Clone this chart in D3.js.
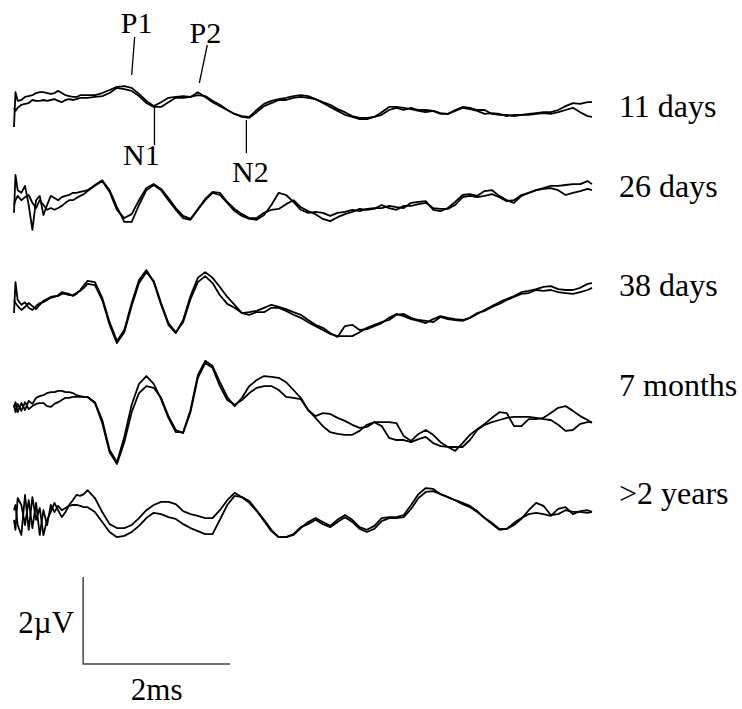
<!DOCTYPE html>
<html>
<head>
<meta charset="utf-8">
<script src="https://cdn.jsdelivr.net/npm/d3@7/dist/d3.min.js"></script>
<style>
  html, body { margin: 0; padding: 0; background: #fff; }
  svg { display: block; }
</style>
</head>
<body>
<svg id="chart" width="742" height="709"></svg>
<script>
// Sampling grid of every sweep (ms): 0.05 ms steps over the first millisecond, 0.1 ms after.
const timeMs = [0, 0.02, 0.05, 0.1, 0.15, 0.2, 0.25, 0.3, 0.35, 0.4, 0.45, 0.5, 0.55, 0.6, 0.65, 0.7, 0.75, 0.8, 0.85, 0.9, 0.95,
  1.0, 1.1, 1.2, 1.3, 1.4, 1.5, 1.6, 1.7, 1.8, 1.9,
  2.0, 2.1, 2.2, 2.3, 2.4, 2.5, 2.6, 2.7, 2.8, 2.9,
  3.0, 3.1, 3.2, 3.3, 3.4, 3.5, 3.6, 3.7, 3.8, 3.9,
  4.0, 4.1, 4.2, 4.3, 4.4, 4.5, 4.6, 4.7, 4.8, 4.9,
  5.0, 5.1, 5.2, 5.3, 5.4, 5.5, 5.6, 5.7, 5.8, 5.9,
  6.0, 6.1, 6.2, 6.3, 6.4, 6.5, 6.6, 6.7, 6.8, 6.9,
  7.0, 7.1, 7.2, 7.3, 7.4, 7.5, 7.6, 7.7, 7.8, 7.86];

// Age groups, one row each
const ages = ["11 days", "26 days", "38 days", "7 months", ">2 years"];

// Two repeated recordings per age (µV)
const days11_a = [-0.62, 0.18, -0.02, 0, 0.07, 0.09, 0.11, 0.16, 0.18, 0.18, 0.16, 0.14, 0.16, 0.21, 0.16, 0.11, 0.09, 0.07, 0.07, 0.11, 0.11,
  0.11, 0.11, 0.16, 0.23, 0.30, 0.32, 0.28, 0.14, -0.02, -0.14,
  -0.05, 0.05, 0.07, 0.09, 0.07, 0.18, 0.07, -0.05, -0.14, -0.23,
  -0.32, -0.37, -0.39, -0.23, -0.09, -0.02, 0.02, 0.05, 0.09, 0.11,
  0.09, 0.02, -0.05, -0.11, -0.21, -0.28, -0.37, -0.41, -0.41, -0.39,
  -0.28, -0.16, -0.16, -0.18, -0.21, -0.25, -0.28, -0.25, -0.30, -0.32,
  -0.23, -0.16, -0.18, -0.23, -0.23, -0.32, -0.34, -0.34, -0.37, -0.34,
  -0.32, -0.30, -0.28, -0.28, -0.23, -0.14, -0.07, -0.09, -0.05, -0.05];
const days11_b = [-0.18, -0.25, -0.18, -0.11, -0.09, -0.07, 0, -0.02, -0.02, 0, -0.02, 0, 0.02, -0.02, -0.05, 0, 0.02, 0, 0.02, 0.05, 0.05,
  0.05, 0.07, 0.09, 0.16, 0.28, 0.25, 0.21, 0.09, -0.07, -0.16,
  -0.16, -0.05, 0.05, 0.05, 0.07, 0.11, 0.09, -0.02, -0.11, -0.23,
  -0.32, -0.39, -0.41, -0.28, -0.14, -0.07, 0, 0, 0.05, 0.07,
  0.05, 0.02, -0.07, -0.16, -0.25, -0.34, -0.39, -0.44, -0.44, -0.39,
  -0.34, -0.23, -0.18, -0.23, -0.18, -0.23, -0.23, -0.25, -0.32, -0.32,
  -0.25, -0.18, -0.21, -0.25, -0.32, -0.30, -0.32, -0.37, -0.34, -0.34,
  -0.34, -0.32, -0.30, -0.32, -0.28, -0.23, -0.18, -0.28, -0.37, -0.39];

const days26_a = [-0.18, 0.69, 0.34, 0.28, 0.44, 0, -0.57, 0.11, 0.21, -0.23, 0, 0.21, 0.16, 0.11, 0.18, 0.21, 0.23, 0.28, 0.28, 0.30, 0.32,
  0.34, 0.46, 0.57, 0.34, -0.05, -0.39, -0.39, 0, 0.34, 0.46,
  0.34, 0.11, -0.11, -0.30, -0.34, -0.11, 0.11, 0.28, 0.23, 0.05,
  -0.14, -0.25, -0.32, -0.34, -0.23, 0, 0.28, 0.23, 0.07, -0.11,
  -0.18, -0.16, -0.18, -0.25, -0.18, -0.16, -0.11, -0.14, -0.09, -0.07,
  -0.07, -0.02, -0.05, -0.07, 0.05, 0.07, 0.09, -0.11, -0.14, -0.07,
  0.07, 0.23, 0.25, 0.21, 0.32, 0.34, 0.21, 0.11, 0.05, 0.21,
  0.28, 0.34, 0.39, 0.44, 0.44, 0.46, 0.48, 0.48, 0.55, 0.48];
const days26_b = [0, 0.11, 0.21, 0.11, 0.18, 0.23, 0.05, -0.07, 0.11, 0, -0.11, -0.07, -0.11, -0.07, -0.02, 0.05, 0.11, 0.11, 0.16, 0.21, 0.25,
  0.32, 0.44, 0.55, 0.30, -0.11, -0.30, -0.21, 0.11, 0.39, 0.48,
  0.37, 0.16, -0.07, -0.25, -0.32, -0.09, 0.14, 0.30, 0.28, 0.07,
  -0.09, -0.21, -0.30, -0.30, -0.18, -0.11, -0.09, 0.02, 0.11, -0.05,
  -0.14, -0.21, -0.32, -0.37, -0.28, -0.21, -0.16, -0.09, -0.11, -0.09,
  0, -0.07, -0.11, -0.02, -0.02, 0.02, 0.05, -0.07, -0.09, -0.09,
  0, 0.18, 0.21, 0.18, 0.21, 0.25, 0.18, 0.09, 0.11, 0.23,
  0.28, 0.34, 0.37, 0.39, 0.34, 0.23, 0.28, 0.32, 0.37, 0.34];

const days38_a = [-0.30, 0.41, 0, -0.11, -0.05, -0.18, -0.23, -0.14, -0.07, -0.05, 0, 0.05, 0.07, 0.11, 0.18, 0.16, 0.14, 0.09, 0.14, 0.23, 0.34,
  0.44, 0.41, 0.05, -0.51, -0.94, -0.69, -0.07, 0.46, 0.69, 0.41,
  -0.11, -0.57, -0.76, -0.46, 0.09, 0.51, 0.64, 0.51, 0.30, 0.07,
  -0.11, -0.30, -0.28, -0.25, -0.18, -0.11, -0.16, -0.21, -0.28, -0.34,
  -0.46, -0.57, -0.64, -0.76, -0.85, -0.60, -0.57, -0.69, -0.67, -0.60,
  -0.53, -0.41, -0.32, -0.37, -0.44, -0.48, -0.53, -0.44, -0.37, -0.41,
  -0.44, -0.46, -0.41, -0.32, -0.23, -0.14, -0.05, 0.02, 0.09, 0.18,
  0.21, 0.25, 0.30, 0.32, 0.25, 0.23, 0.23, 0.28, 0.37, 0.39];
const days38_b = [0, -0.07, -0.14, -0.23, -0.16, -0.07, -0.14, -0.21, -0.11, -0.02, 0.02, 0.07, 0.09, 0.09, 0.14, 0.14, 0.11, 0.11, 0.16, 0.21, 0.28,
  0.37, 0.34, 0, -0.57, -0.99, -0.74, -0.14, 0.39, 0.64, 0.44,
  -0.07, -0.53, -0.74, -0.51, 0.02, 0.41, 0.55, 0.39, 0.11, -0.09,
  -0.18, -0.30, -0.34, -0.28, -0.28, -0.18, -0.18, -0.25, -0.34, -0.41,
  -0.51, -0.60, -0.69, -0.78, -0.83, -0.83, -0.83, -0.74, -0.64, -0.57,
  -0.51, -0.46, -0.34, -0.32, -0.41, -0.46, -0.48, -0.51, -0.39, -0.44,
  -0.46, -0.48, -0.41, -0.30, -0.25, -0.16, -0.09, 0, 0.07, 0.14,
  0.16, 0.23, 0.21, 0.23, 0.18, 0.16, 0.14, 0.18, 0.23, 0.28];

const months7_a = [-0.18, -0.05, -0.28, -0.07, -0.23, -0.02, -0.09, 0.05, 0.09, 0.11, 0.16, 0.18, 0.18, 0.21, 0.21, 0.18, 0.18, 0.16, 0.11, 0.09, 0.07,
  0.07, -0.05, -0.46, -1.15, -1.43, -0.85, -0.11, 0.37, 0.55, 0.37,
  0.02, -0.41, -0.74, -0.74, -0.23, 0.57, 0.90, 0.78, 0.41, 0.07,
  -0.14, 0.05, 0.32, 0.46, 0.55, 0.53, 0.51, 0.41, 0.23, 0.05,
  -0.23, -0.37, -0.30, -0.32, -0.41, -0.48, -0.57, -0.64, -0.62, -0.51,
  -0.51, -0.51, -0.53, -0.83, -0.94, -0.78, -0.69, -0.80, -0.97, -1.08,
  -1.17, -0.99, -0.80, -0.67, -0.55, -0.41, -0.28, -0.30, -0.60, -0.60,
  -0.44, -0.44, -0.41, -0.30, -0.18, -0.14, -0.25, -0.37, -0.46, -0.53];
const months7_b = [-0.11, -0.28, -0.09, -0.25, -0.05, -0.21, -0.14, -0.09, -0.07, -0.07, -0.14, -0.16, -0.09, -0.05, 0, 0.05, 0.05, 0.07, 0.07, 0.07, 0.07,
  0.07, -0.07, -0.53, -1.20, -1.47, -0.97, -0.28, 0.16, 0.32, 0.28,
  0.05, -0.37, -0.69, -0.76, -0.28, 0.51, 0.85, 0.74, 0.32, 0,
  -0.11, 0, 0.16, 0.28, 0.32, 0.32, 0.23, 0.07, 0.05, 0.02,
  -0.23, -0.41, -0.60, -0.74, -0.78, -0.80, -0.80, -0.71, -0.57, -0.51,
  -0.60, -0.87, -0.92, -0.92, -0.97, -0.90, -0.85, -0.99, -1.06, -1.08,
  -1.08, -1.08, -0.92, -0.69, -0.57, -0.51, -0.46, -0.41, -0.39, -0.39,
  -0.39, -0.41, -0.44, -0.46, -0.57, -0.71, -0.69, -0.55, -0.51, -0.51];

const years2_a = [0.11, 0.23, -0.23, -0.46, 0.46, -0.34, 0.41, -0.11, 0.16, -0.46, -0.11, 0.07, 0.28, 0.11, -0.05, 0.07, 0.23, 0.34, 0.46, 0.44, 0.48,
  0.57, 0.39, 0.07, -0.21, -0.30, -0.30, -0.23, -0.07, 0.11, 0.23,
  0.30, 0.30, 0.25, 0.09, 0.02, -0.02, -0.07, -0.07, 0.11, 0.34,
  0.51, 0.41, 0.32, 0.11, -0.11, -0.34, -0.51, -0.51, -0.46, -0.30,
  -0.16, -0.07, -0.16, -0.25, -0.11, 0, -0.11, -0.28, -0.34, -0.25,
  -0.07, -0.05, -0.05, 0, 0.23, 0.48, 0.62, 0.60, 0.48, 0.41,
  0.34, 0.28, 0.21, 0.09, -0.07, -0.18, -0.32, -0.32, -0.23, -0.09,
  0.11, 0.28, 0.21, 0, 0.02, 0.11, 0.07, 0.07, 0.05, 0.07];
const years2_b = [-0.11, -0.34, 0.39, 0.23, -0.23, 0.34, -0.30, 0.28, -0.46, 0.11, -0.23, 0.23, 0.07, 0.21, 0.11, 0.16, 0.21, 0.23, 0.23, 0.21, 0.18,
  0.18, 0.07, -0.16, -0.39, -0.51, -0.48, -0.39, -0.25, -0.07, 0.05,
  0.02, -0.05, -0.09, -0.21, -0.30, -0.37, -0.44, -0.44, -0.11, 0.23,
  0.44, 0.41, 0.28, 0.09, -0.14, -0.37, -0.51, -0.51, -0.44, -0.28,
  -0.21, -0.11, -0.21, -0.28, -0.16, -0.05, -0.16, -0.32, -0.39, -0.32,
  -0.14, -0.07, -0.07, -0.05, 0.14, 0.39, 0.53, 0.55, 0.48, 0.41,
  0.34, 0.25, 0.18, 0.07, -0.07, -0.21, -0.34, -0.32, -0.18, -0.07,
  0.02, 0.05, 0.02, -0.02, 0.14, 0.18, 0.02, 0.09, 0.11, 0.07];

const recordings = [
  [days11_a, days11_b],
  [days26_a, days26_b],
  [days38_a, days38_b],
  [months7_a, months7_b],
  [years2_a, years2_b]
];

// Wave components marked on the youngest trace (latency in ms)
const peakLabels = ["P1", "N1", "P2", "N2"];
const peakTimes = [1.6, 1.91, 2.52, 3.16];

// Calibration bar
const barTimeMs = 2;
const barMicroV = 2;

// ---------- layout ----------
const FONT = "'Liberation Serif', 'Times New Roman', 'DejaVu Serif', serif";
const svg = d3.select("#chart");
const rowBaseline = [100, 205, 300, 400, 515];
const rowLabelY = [117, 197, 296, 396, 504];
const x = d3.scaleLinear().domain([0, 7.86]).range([14, 592]);
const amp = d3.scaleLinear().domain([0, 1]).range([0, -43.5]); // µV -> vertical offset

const line = (base) => d3.line()
  .x((d, i) => x(timeMs[i]))
  .y(d => base + amp(d))
  .curve(d3.curveLinear);

recordings.forEach((pair, r) => {
  const g = svg.append("g").attr("class", "row");
  pair.forEach(series => {
    g.append("path")
      .datum(series)
      .attr("d", line(rowBaseline[r]))
      .attr("fill", "none")
      .attr("stroke", "#000")
      .attr("stroke-width", 1.8)
      .attr("stroke-linejoin", "round");
  });
  g.append("text")
    .attr("x", 619)
    .attr("y", rowLabelY[r])
    .attr("font-family", FONT)
    .attr("font-size", 32)
    .attr("fill", "#000")
    .text(ages[r]);
});

// Component markers: leader line and label placement for each
const markerLayout = {
  P1: { top: 37, bottom: 75, lean: 3, textDx: 5, textY: 33 },
  P2: { top: 45, bottom: 83, lean: 8, textDx: 6, textY: 43 },
  N1: { top: 107, bottom: 145, lean: 0, textDx: -13, textY: 165 },
  N2: { top: 120, bottom: 153, lean: 0, textDx: 4, textY: 182 }
};
const ann = svg.append("g");
peakLabels.forEach((lab, i) => {
  const px = x(peakTimes[i]);
  const m = markerLayout[lab];
  ann.append("line")
    .attr("x1", px + m.lean).attr("y1", m.top)
    .attr("x2", px).attr("y2", m.bottom)
    .attr("stroke", "#000").attr("stroke-width", 1.3);
  ann.append("text")
    .attr("x", px + m.textDx).attr("y", m.textY)
    .attr("text-anchor", "middle")
    .attr("font-family", FONT)
    .attr("font-size", 30)
    .attr("fill", "#000")
    .text(lab);
});

// Calibration bar
const barStart = 0.94;
const barX0 = x(barStart);
const barY0 = 664;
const cal = svg.append("g");
cal.append("path")
  .attr("d", `M${barX0},${barY0 + amp(barMicroV)}V${barY0}H${x(barStart + barTimeMs)}`)
  .attr("fill", "none")
  .attr("stroke", "#444")
  .attr("stroke-width", 1.5);
cal.append("text")
  .attr("x", barX0 - 9).attr("y", 633)
  .attr("text-anchor", "end")
  .attr("font-family", FONT)
  .attr("font-size", 31)
  .attr("fill", "#000")
  .text(barMicroV + "\u00B5V");
cal.append("text")
  .attr("x", (barX0 + x(barStart + barTimeMs)) / 2).attr("y", 700)
  .attr("text-anchor", "middle")
  .attr("font-family", FONT)
  .attr("font-size", 31)
  .attr("fill", "#000")
  .text(barTimeMs + "ms");
</script>
</body>
</html>
